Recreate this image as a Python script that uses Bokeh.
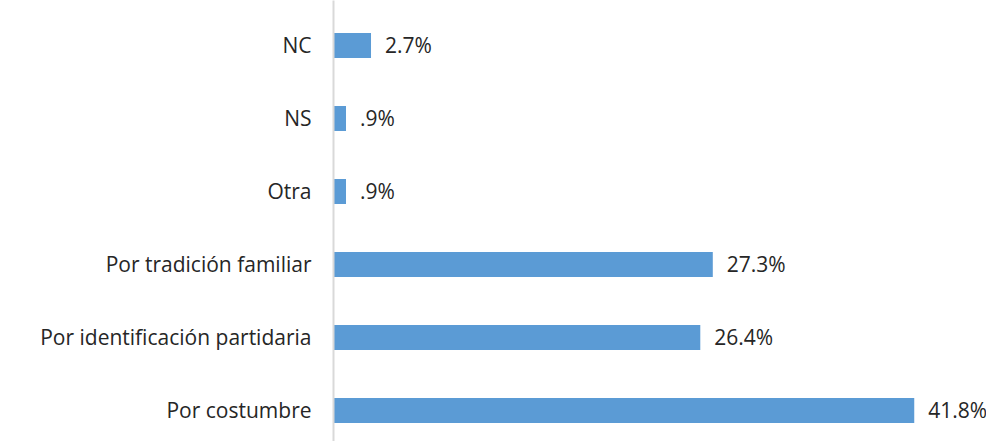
from bokeh.plotting import figure
from bokeh.models import Range1d, FixedTicker, ColumnDataSource
from bokeh.core.properties import value
from bokeh.embed import file_html
from bokeh.resources import INLINE

categories = ["Por costumbre", "Por identificación partidaria", "Por tradición familiar", "Otra", "NS", "NC"]
values = [41.8, 26.4, 27.3, 0.9, 0.9, 2.7]
labels = [f"{v:.1f}%".lstrip("0") for v in values]
positions = list(range(len(categories)))

FONT = "Open Sans"
TEXT = "#262626"
BAR = "#5B9BD5"

src = ColumnDataSource(dict(y=positions, v=values, lab=labels))

p = figure(frame_width=653, frame_height=441, output_backend="svg", toolbar_location=None,
           x_range=Range1d(0, 47.0), y_range=Range1d(-0.425, 5.616),
           min_border_left=333, min_border_right=0, min_border_top=0, min_border_bottom=0)
p.hbar(y="y", right="v", left=0, height=0.34, source=src, color=BAR, line_color=None)
p.text(x="v", y="y", text="lab", source=src, x_offset=14, text_baseline="middle", text_align="left",
       text_font=value(FONT), text_font_size="21px", text_color=TEXT)

p.xaxis.visible = False
p.yaxis.ticker = FixedTicker(ticks=positions)
p.yaxis.major_label_overrides = {i: c for i, c in zip(positions, categories)}
p.yaxis.major_tick_line_color = None
p.yaxis.minor_tick_line_color = None
p.yaxis.axis_line_color = "#D9D9D9"
p.yaxis.axis_line_width = 2
p.yaxis.major_label_standoff = 16
p.yaxis.major_label_text_font = FONT
p.yaxis.major_label_text_font_size = "21px"
p.yaxis.major_label_text_color = TEXT
p.grid.visible = False
p.outline_line_color = None
p.background_fill_color = "white"
p.border_fill_color = "white"

open("out.html", "w").write(file_html(p, INLINE))
